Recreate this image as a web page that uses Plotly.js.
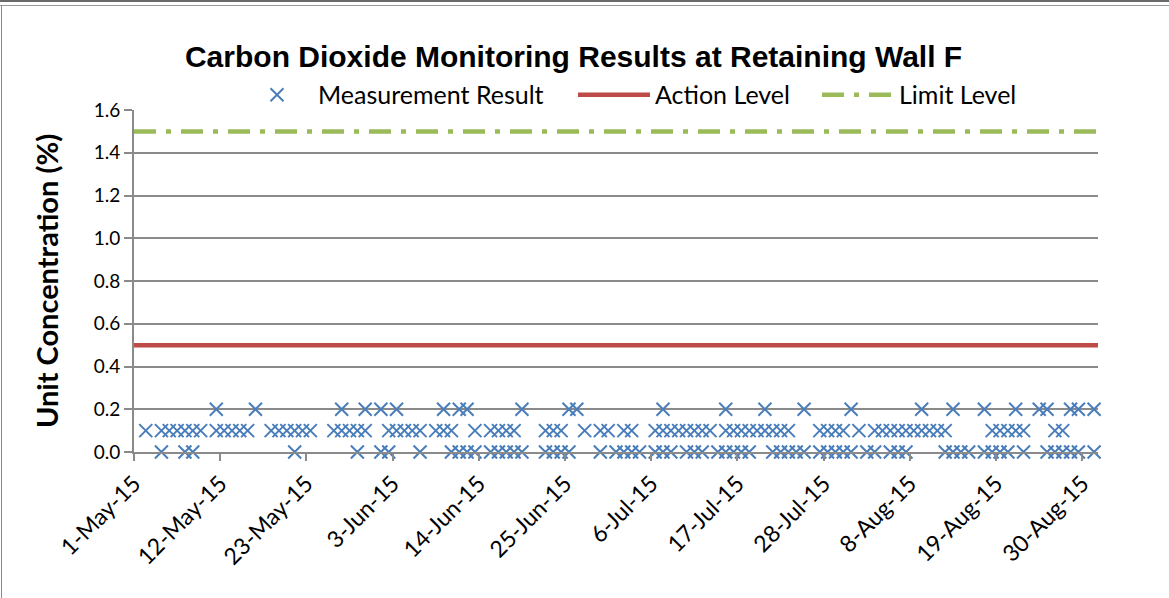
<!DOCTYPE html>
<html>
<head>
<meta charset="utf-8">
<script src="https://cdn.plot.ly/plotly-3.0.1.min.js"></script>
<style>
  html, body { margin: 0; padding: 0; background: #ffffff; }
  #wrap { position: relative; width: 1169px; height: 598px; overflow: hidden; }
  #plot { position: absolute; left: 0; top: 0; width: 1169px; height: 598px; }
  .b-top1 { position: absolute; left: 0; top: 0; width: 1169px; height: 2px; background: #6a6a6a; }
  .b-top2 { position: absolute; left: 0; top: 5px; width: 1169px; height: 1px; background: #9a9a9a; }
  .b-left { position: absolute; left: 1px; top: 5px; width: 1px; height: 593px; background: #8a8a8a; }
</style>
</head>
<body>
<div id="wrap">
  <div id="plot"></div>
  <div class="b-top1"></div>
  <div class="b-top2"></div>
  <div class="b-left"></div>
</div>
<script>
// ---- Data ----
const chartTitle = 'Carbon Dioxide Monitoring Results at Retaining Wall F';
const yTitle = 'Unit Concentration (%)';
const seriesNames = ['Measurement Result', 'Action Level', 'Limit Level'];

const axisStart = '2015-05-01';
const axisEnd = '2015-09-01';

const actionLevel = 0.5;
const limitLevel = 1.5;

// Measurement dates grouped by reading (%)
const datesAt02 = [
  '2015-05-11','2015-05-16','2015-05-27','2015-05-30','2015-06-01','2015-06-03',
  '2015-06-09','2015-06-11','2015-06-12','2015-06-19','2015-06-25','2015-06-26',
  '2015-07-07','2015-07-15','2015-07-20','2015-07-25','2015-07-31','2015-08-09',
  '2015-08-13','2015-08-17','2015-08-21','2015-08-24','2015-08-25','2015-08-28',
  '2015-08-29','2015-08-31'
];
const datesAt01 = [
  '2015-05-02','2015-05-04','2015-05-05','2015-05-06','2015-05-07','2015-05-08','2015-05-09',
  '2015-05-11','2015-05-12','2015-05-13','2015-05-14','2015-05-15',
  '2015-05-18','2015-05-19','2015-05-20','2015-05-21','2015-05-22','2015-05-23',
  '2015-05-26','2015-05-27','2015-05-28','2015-05-29','2015-05-30',
  '2015-06-02','2015-06-03','2015-06-04','2015-06-05','2015-06-06',
  '2015-06-08','2015-06-09','2015-06-10','2015-06-13',
  '2015-06-15','2015-06-16','2015-06-17','2015-06-18',
  '2015-06-22','2015-06-23','2015-06-24','2015-06-27','2015-06-29','2015-06-30',
  '2015-07-02','2015-07-03',
  '2015-07-06','2015-07-07','2015-07-08','2015-07-09','2015-07-10','2015-07-11','2015-07-12','2015-07-13',
  '2015-07-15','2015-07-16','2015-07-17','2015-07-18','2015-07-19','2015-07-20','2015-07-21','2015-07-22','2015-07-23',
  '2015-07-27','2015-07-28','2015-07-29','2015-07-30','2015-08-01',
  '2015-08-03','2015-08-04','2015-08-05','2015-08-06','2015-08-07','2015-08-08','2015-08-09','2015-08-10','2015-08-11','2015-08-12',
  '2015-08-18','2015-08-19','2015-08-20','2015-08-21','2015-08-22',
  '2015-08-26','2015-08-27'
];
const datesAt00 = [
  '2015-05-04','2015-05-07','2015-05-08','2015-05-21','2015-05-29',
  '2015-06-01','2015-06-02','2015-06-06',
  '2015-06-10','2015-06-11','2015-06-12','2015-06-13',
  '2015-06-15','2015-06-16','2015-06-17','2015-06-18','2015-06-19',
  '2015-06-22','2015-06-23','2015-06-24','2015-06-25','2015-06-29',
  '2015-07-01','2015-07-02','2015-07-03','2015-07-04',
  '2015-07-06','2015-07-07','2015-07-08',
  '2015-07-10','2015-07-11','2015-07-12',
  '2015-07-14','2015-07-15','2015-07-16','2015-07-17','2015-07-18',
  '2015-07-21','2015-07-22','2015-07-23','2015-07-24','2015-07-25',
  '2015-07-27','2015-07-28','2015-07-29','2015-07-30','2015-07-31',
  '2015-08-02','2015-08-03','2015-08-05','2015-08-06','2015-08-07',
  '2015-08-12','2015-08-13','2015-08-14','2015-08-15',
  '2015-08-17','2015-08-18','2015-08-19','2015-08-20','2015-08-22',
  '2015-08-25','2015-08-26','2015-08-27','2015-08-28','2015-08-29','2015-08-31'
];
const readingGroups = [
  { value: 0.2, dates: datesAt02 },
  { value: 0.1, dates: datesAt01 },
  { value: 0.0, dates: datesAt00 }
];

// ---- Build traces ----
// Excel date axis places each daily point in the middle of its day
const measX = [], measY = [];
readingGroups.forEach(g => {
  g.dates.forEach(d => { measX.push(d + ' 12:00'); measY.push(g.value); });
});

const fam = 'Lato, "Open Sans", sans-serif';
const gridColor = '#8a8a8a';

const traces = [
  {
    type: 'scatter', mode: 'markers', name: seriesNames[0], legend: 'legend',
    x: measX, y: measY,
    marker: { symbol: 'x-thin-open', size: 13, color: '#4A7EBB', line: { color: '#4A7EBB', width: 2 } },
    cliponaxis: false
  },
  {
    type: 'scatter', mode: 'lines', name: seriesNames[1], legend: 'legend2',
    x: [axisStart, axisEnd], y: [actionLevel, actionLevel],
    line: { color: '#BE4B48', width: 4.5 }
  },
  {
    type: 'scatter', mode: 'lines', name: seriesNames[2], legend: 'legend3',
    x: [axisStart, axisEnd], y: [limitLevel, limitLevel],
    line: { color: '#9BBB59', width: 4.5, dash: '22px,10px,5px,10px' }
  }
];

function legendAt(xPaper) {
  return {
    orientation: 'h', x: xPaper, xanchor: 'left', y: 1.044, yanchor: 'middle',
    font: { family: fam, size: 25, color: '#000000' },
    bgcolor: 'rgba(0,0,0,0)', itemwidth: 72
  };
}

const layout = {
  width: 1169, height: 598,
  margin: { l: 134, r: 71, t: 110, b: 146, pad: 0 },
  paper_bgcolor: 'rgba(0,0,0,0)', plot_bgcolor: '#ffffff',
  showlegend: true,
  title: {
    text: '<b>' + chartTitle + '</b>',
    font: { family: '"Liberation Sans", Arial, sans-serif', size: 30, color: '#000000' },
    x: 0.456, xanchor: 'center', y: 0.905, yanchor: 'middle', xref: 'paper'
  },
  legend: legendAt(0.1058),
  legend2: legendAt(0.4554),
  legend3: legendAt(0.7085),
  xaxis: {
    type: 'date', range: [axisStart, axisEnd],
    tickmode: 'linear', tick0: axisStart, dtick: 11 * 86400000,
    tickformat: '%-d-%b-%y', tickangle: -45,
    tickfont: { family: fam, size: 23, color: '#000000' },
    ticks: 'outside', ticklen: 7, tickwidth: 2, tickcolor: gridColor,
    showline: true, linecolor: gridColor, linewidth: 2,
    showgrid: false, zeroline: false, fixedrange: true
  },
  yaxis: {
    range: [0, 1.6], tickmode: 'linear', tick0: 0, dtick: 0.2, tickformat: '.1f',
    tickfont: { family: fam, size: 19, color: '#000000' },
    ticks: 'outside', ticklen: 8, tickwidth: 2, tickcolor: gridColor,
    showline: true, linecolor: gridColor, linewidth: 2,
    showgrid: true, gridcolor: gridColor, gridwidth: 2, zeroline: false,
    title: { text: '<b>' + yTitle + '</b>', font: { family: fam, size: 29, color: '#000000' }, standoff: 27 },
    fixedrange: true
  }
};

Plotly.newPlot('plot', traces, layout, { staticPlot: true, displayModeBar: false });
</script>
</body>
</html>
